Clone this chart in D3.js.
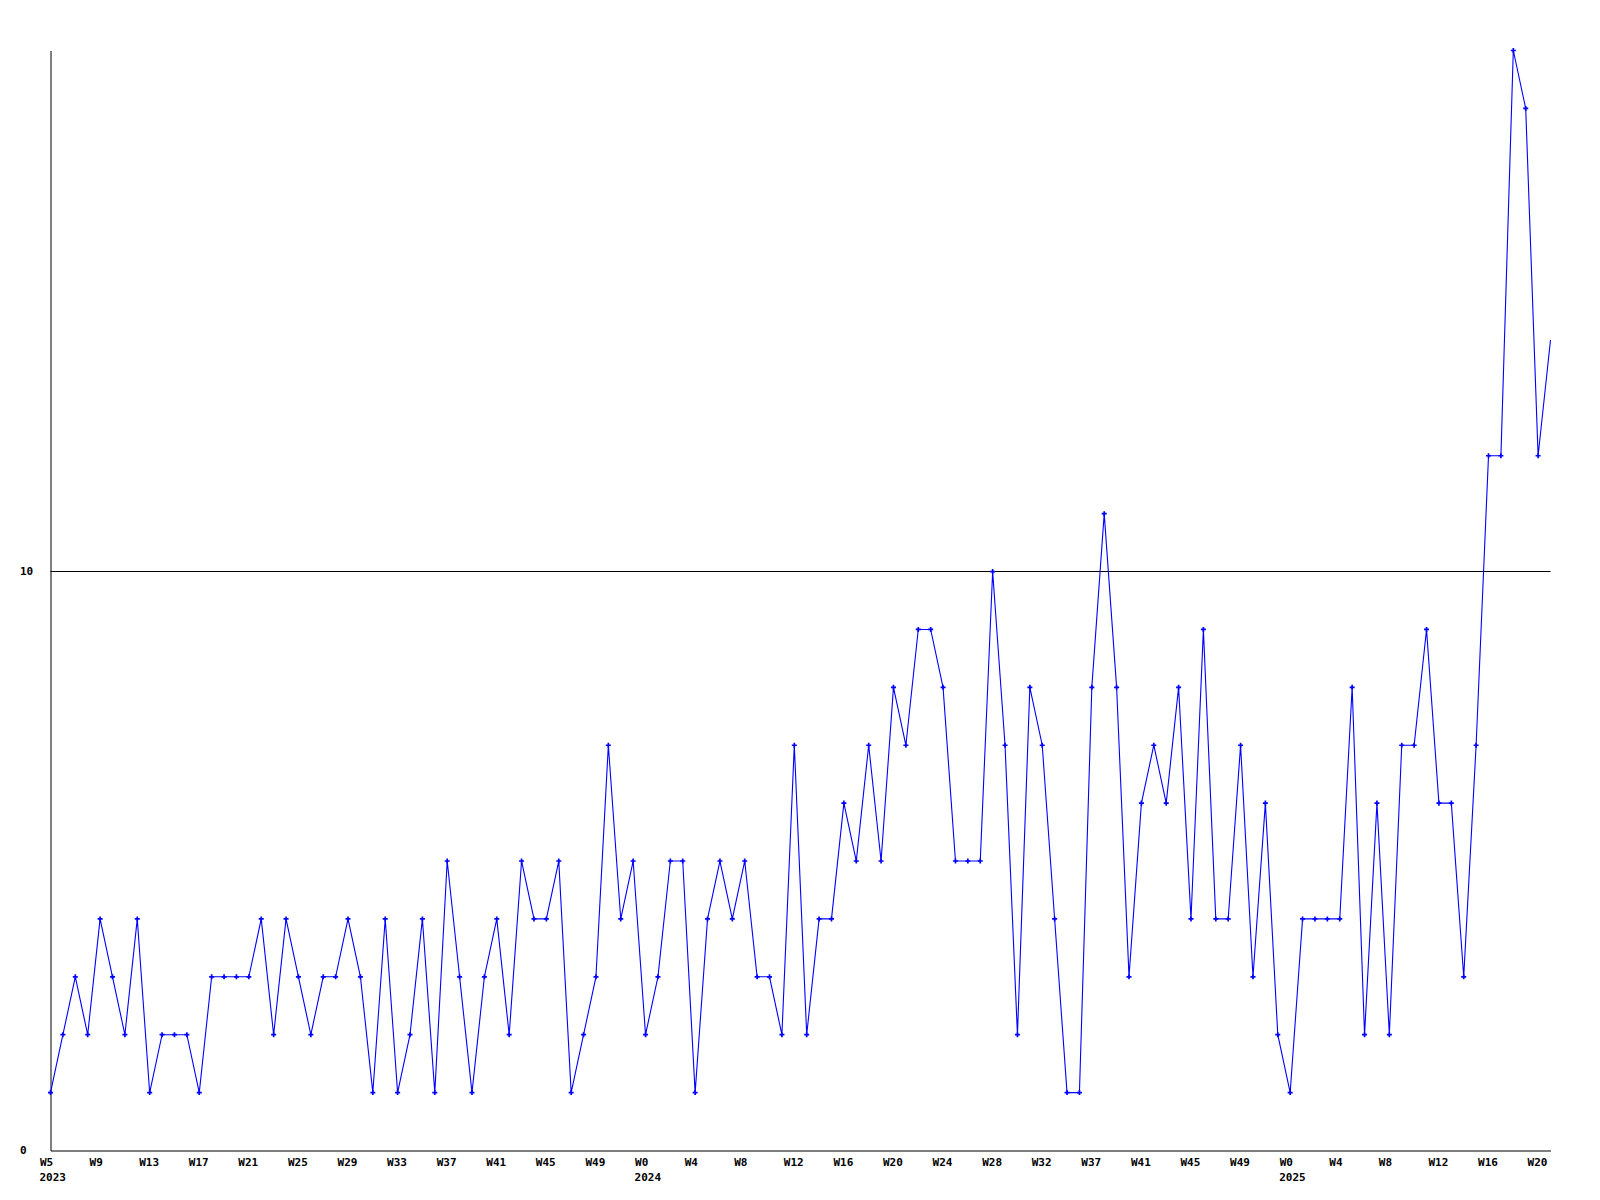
<!DOCTYPE html>
<html>
<head>
<meta charset="utf-8">
<script src="https://cdn.jsdelivr.net/npm/d3@7"></script>
<style>
  html, body { margin: 0; padding: 0; background: #ffffff; }
  svg { display: block; }
  text { font-family: "DejaVu Sans Mono", "Liberation Mono", monospace; font-weight: bold; font-size: 11px; fill: #000; }
</style>
</head>
<body>
<svg id="chart" width="1600" height="1200"></svg>
<script>
// ---- data ----
const values = [
  1, 2, 3, 2, 4, 3, 2, 4, 1, 2, 2, 2, 1, 3, 3, 3, 3, 4, 2, 4,
  3, 2, 3, 3, 4, 3, 1, 4, 1, 2, 4, 1, 5, 3, 1, 3, 4, 2, 5, 4,
  4, 5, 1, 2, 3, 7, 4, 5, 2, 3, 5, 5, 1, 4, 5, 4, 5, 3, 3, 2,
  7, 2, 4, 4, 6, 5, 7, 5, 8, 7, 9, 9, 8, 5, 5, 5, 10, 7, 2, 8,
  7, 4, 1, 1, 8, 11, 8, 3, 6, 7, 6, 8, 4, 9, 4, 4, 7, 3, 6, 2,
  1, 4, 4, 4, 4, 8, 2, 6, 2, 7, 7, 9, 6, 6, 3, 7, 12, 12, 19, 18,
  12, 14
];
const tickIndex = [0, 4, 8, 12, 16, 20, 24, 28, 32, 36, 40, 44, 48, 52, 56, 60, 64, 68, 72, 76,
                   80, 84, 88, 92, 96, 100, 104, 108, 112, 116, 120];
const tickLabels = ["W5", "W9", "W13", "W17", "W21", "W25", "W29", "W33", "W37", "W41", "W45", "W49",
                    "W0", "W4", "W8", "W12", "W16", "W20", "W24", "W28", "W32", "W37", "W41", "W45", "W49",
                    "W0", "W4", "W8", "W12", "W16", "W20"];
const yearIndex = [0, 48, 100];
const yearLabels = ["2023", "2024", "2025"];
const yTicks = [0, 10];
const yMax = 19;

// ---- layout ----
const svg = d3.select("#chart");
const mLeft = 50.5, mRight = 1550.5, mBottom = 1150.5, mTop = 50.5;

const x = d3.scaleLinear().domain([0, values.length - 1]).range([mLeft, mRight]);
const y = d3.scaleLinear().domain([0, yMax]).range([mBottom, mTop]);

// gridline at 10
svg.append("g").selectAll("line")
  .data(yTicks.filter(d => d > 0))
  .join("line")
  .attr("x1", mLeft).attr("x2", mRight)
  .attr("y1", d => Math.round(y(d) - 0.5) + 0.5).attr("y2", d => Math.round(y(d) - 0.5) + 0.5)
  .attr("stroke", "#000").attr("stroke-width", 1);

// x axis
const labelMap = new Map(tickIndex.map((t, i) => [t, tickLabels[i]]));
const xAxis = d3.axisBottom(x).tickValues(tickIndex).tickSize(0).tickSizeOuter(0)
  .tickFormat(d => labelMap.get(d));
const gx = svg.append("g").attr("transform", `translate(0,${mBottom})`).call(xAxis);
gx.select(".domain").attr("stroke", "#000");
gx.selectAll(".tick text")
  .attr("text-anchor", "start")
  .attr("x", -11)
  .attr("y", 12)
  .attr("dy", null)
  .attr("dominant-baseline", "central")
  .attr("fill", "#000");
gx.attr("font-family", null).attr("font-size", null);

// year labels
svg.append("g").selectAll("text")
  .data(yearIndex)
  .join("text")
  .attr("x", d => x(d) - 11)
  .attr("y", mBottom + 27)
  .attr("dominant-baseline", "central")
  .text((d, i) => yearLabels[i]);

// y axis
const yAxis = d3.axisLeft(y).tickValues(yTicks).tickSize(0).tickSizeOuter(0).tickFormat(d3.format("d"));
const gy = svg.append("g").attr("transform", `translate(${mLeft},0)`).call(yAxis);
gy.select(".domain").attr("stroke", "#000");
gy.selectAll(".tick text")
  .attr("text-anchor", "start")
  .attr("x", 20 - mLeft)
  .attr("dy", null)
  .attr("y", -1)
  .attr("dominant-baseline", "central")
  .attr("fill", "#000");
gy.attr("font-family", null).attr("font-size", null);

// line
const line = d3.line().x((d, i) => x(i)).y(d => y(d));
svg.append("path")
  .datum(values)
  .attr("fill", "none")
  .attr("stroke", "#0000ff")
  .attr("stroke-width", 1.1)
  .attr("d", line);

// markers
const sym = d3.symbol().type(d3.symbolCross).size(14);
svg.append("g").selectAll("path")
  .data(values.slice(0, values.length - 1))
  .join("path")
  .attr("transform", (d, i) => `translate(${x(i)},${y(d)})`)
  .attr("d", sym)
  .attr("fill", "#0000ff");
</script>
</body>
</html>
